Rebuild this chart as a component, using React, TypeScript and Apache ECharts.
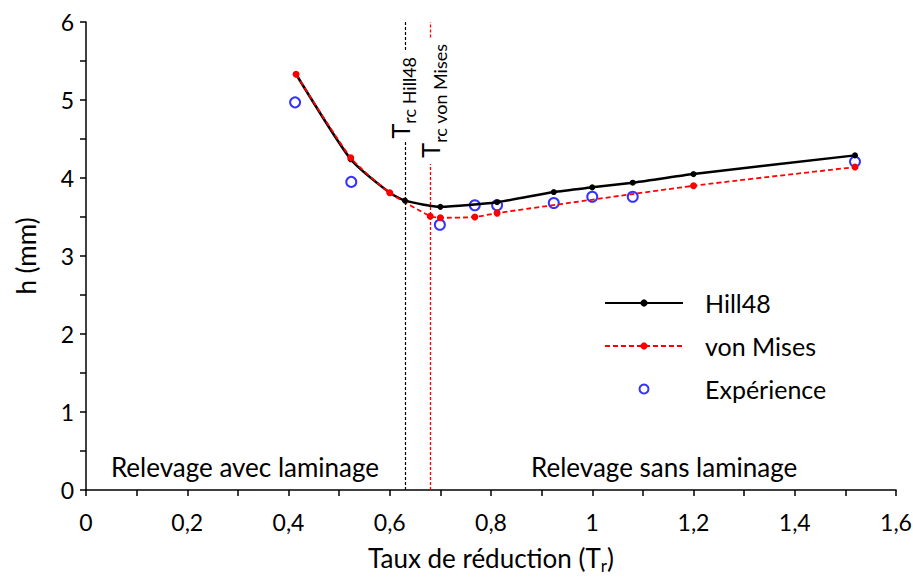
import { useEffect, useRef } from "react";
import * as echarts from "echarts";

const hillX = [0.415, 0.523, 0.6, 0.63, 0.7, 0.812, 0.924, 1.0, 1.08, 1.2, 1.519];
const hillY = [5.33, 4.24, 3.81, 3.71, 3.63, 3.69, 3.82, 3.88, 3.94, 4.05, 4.29];

const misesX = [0.415, 0.523, 0.6, 0.68, 0.7, 0.768, 0.812, 1.2, 1.519];
const misesY = [5.33, 4.26, 3.81, 3.51, 3.49, 3.5, 3.55, 3.9, 4.14];

const expX = [0.413, 0.524, 0.699, 0.768, 0.812, 0.924, 1.0, 1.08, 1.519];
const expY = [4.97, 3.95, 3.4, 3.65, 3.65, 3.68, 3.76, 3.76, 4.21];

const trcHill = 0.63;
const trcMises = 0.68;
// vertical extent of the gap left in each dashed line for its label
const hillGap = [4.48, 5.64];
const misesGap = [4.18, 5.8];

const seriesNames = ["Hill48", "von Mises", "Expérience"];
const regionLabels = ["Relevage avec laminage", "Relevage sans laminage"];
const regionX = [0.314, 1.142];
const regionY = 0.3;

const FONT = "Lato";

const zip = (xs: number[], ys: number[]) => xs.map((x, i) => [x, ys[i]]);
const fmt = (v: number) => String(Math.round(v * 10) / 10).replace(".", ",");

const splitLine = (x: number, gap: number[]) => [
  [{ coord: [x, 0] }, { coord: [x, gap[0]] }],
  [{ coord: [x, gap[1]] }, { coord: [x, 6] }],
];

export default function App() {
  const ref = useRef<HTMLDivElement>(null);
  useEffect(() => {
    const chart = echarts.init(ref.current!, null, { renderer: "svg" });
    chart.setOption({
      animation: false,
      textStyle: { fontFamily: FONT, color: "#000" },
      grid: { left: 86, right: 17, top: 22, bottom: 88, containLabel: false, outerBoundsMode: "none" },
      legend: {
        orient: "vertical",
        left: 604,
        top: 288,
        padding: 0,
        itemWidth: 78,
        itemHeight: 9,
        itemGap: 13,
        data: seriesNames,
        textStyle: { fontFamily: FONT, fontSize: 25, color: "#000", lineHeight: 30, padding: [0, 0, 0, 17] },
      },
      xAxis: {
        type: "value",
        min: 0,
        max: 1.6,
        interval: 0.2,
        name: "{a|Taux de réduction (T}{b|r}{a|)}",
        nameLocation: "middle",
        nameGap: 57,
        nameTextStyle: {
          rich: {
            a: { fontFamily: FONT, fontSize: 26, lineHeight: 27, color: "#000", verticalAlign: "bottom", padding: [0, 0, 3, 0] },
            b: { fontFamily: FONT, fontSize: 17, lineHeight: 18, color: "#000", verticalAlign: "bottom" },
          },
        },
        axisLine: { lineStyle: { color: "#000", width: 1.5 } },
        axisTick: { show: true, length: 6, lineStyle: { color: "#000", width: 1.5 } },
        minorTick: { show: true, splitNumber: 2, length: 6, lineStyle: { color: "#000", width: 1.5 } },
        splitLine: { show: false },
        axisLabel: { fontFamily: FONT, fontSize: 23, color: "#000", margin: 20, formatter: fmt },
      },
      yAxis: {
        type: "value",
        min: 0,
        max: 6,
        interval: 1,
        name: "h (mm)",
        nameLocation: "middle",
        nameGap: 47,
        nameTextStyle: { fontFamily: FONT, fontSize: 26, color: "#000" },
        axisLine: { show: true, lineStyle: { color: "#000", width: 1.5 } },
        axisTick: { show: true, length: 6, lineStyle: { color: "#000", width: 1.5 } },
        minorTick: { show: true, splitNumber: 2, length: 6, lineStyle: { color: "#000", width: 1.5 } },
        splitLine: { show: false },
        axisLabel: { fontFamily: FONT, fontSize: 23, color: "#000", margin: 12, formatter: fmt },
      },
      series: [
        {
          name: seriesNames[0],
          type: "line",
          data: zip(hillX, hillY),
          smooth: 0.2,
          symbol: "circle",
          symbolSize: 6,
          lineStyle: { color: "#000", width: 2.5 },
          itemStyle: { color: "#000" },
          markLine: {
            silent: true,
            symbol: "none",
            label: { show: false },
            lineStyle: { color: "#000", type: [3, 2], width: 1.2 },
            data: splitLine(trcHill, hillGap),
          },
        },
        {
          name: seriesNames[1],
          type: "line",
          data: zip(misesX, misesY),
          smooth: 0.2,
          symbol: "circle",
          symbolSize: 7,
          lineStyle: { color: "#ff0000", width: 1.8, type: [5, 3] },
          itemStyle: { color: "#ff0000" },
          markLine: {
            silent: true,
            symbol: "none",
            label: { show: false },
            lineStyle: { color: "#ff0000", type: [3, 2], width: 1.3 },
            data: splitLine(trcMises, misesGap),
          },
        },
        {
          name: seriesNames[2],
          type: "scatter",
          data: zip(expX, expY),
          symbol: "emptyCircle",
          symbolSize: 10,
          itemStyle: { color: "#0000ff", borderWidth: 1.5 },
        },
      ],
    });

    const px = (x: number, y: number) => chart.convertToPixel({ gridIndex: 0 }, [x, y]) as number[];
    const p1 = px(trcHill, 5.03);
    const p2 = px(trcMises, 4.99);
    const richT = (c: string) => ({
      t: { fontFamily: FONT, fontSize: 25, fill: c, verticalAlign: "bottom", padding: [0, 0, 6, 0] },
      s: { fontFamily: FONT, fontSize: 18, fill: c, verticalAlign: "bottom" },
    });
    chart.setOption({
      graphic: [
        {
          type: "text",
          x: p1[0] - 2,
          y: p1[1],
          rotation: Math.PI / 2,
          z: 100,
          style: {
            text: "{t|T}{s|rc Hill48}",
            rich: richT("#000"),
            align: "center",
            verticalAlign: "middle",
          },
        },
        {
          type: "text",
          x: p2[0] + 3,
          y: p2[1],
          rotation: Math.PI / 2,
          z: 100,
          style: {
            text: "{t|T}{s|rc von Mises}",
            rich: richT("#000"),
            align: "center",
            verticalAlign: "middle",
          },
        },
        ...regionLabels.map((t, i) => {
          const p = px(regionX[i], regionY);
          return {
            type: "text",
            x: p[0],
            y: p[1],
            z: 100,
            style: {
              text: t,
              fontFamily: FONT,
              fontSize: 26,
              fill: "#000",
              align: "center",
              verticalAlign: "middle",
            },
          };
        }),
      ],
    });
    return () => chart.dispose();
  }, []);
  return <div ref={ref} style={{ position: "absolute", left: 0, top: 0, width: 913, height: 578 }} />;
}
